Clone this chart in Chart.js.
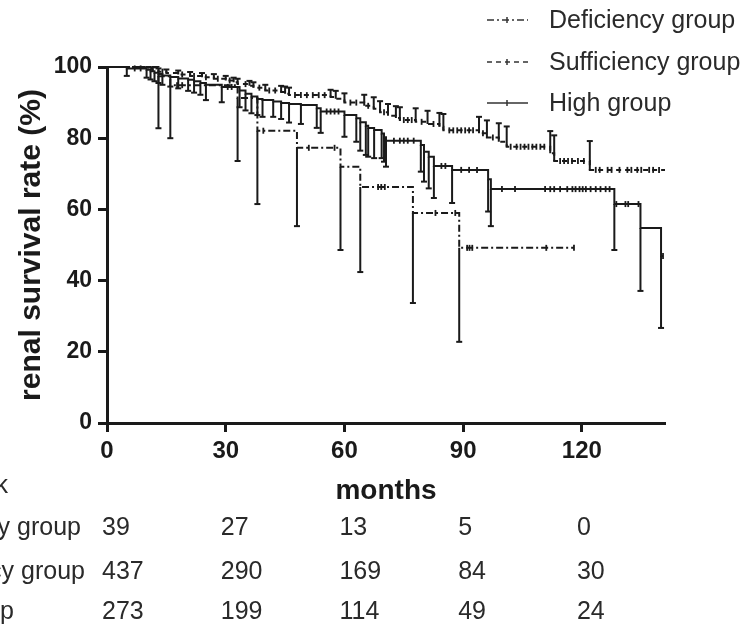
<!DOCTYPE html>
<html><head><meta charset="utf-8">
<script src="https://cdn.jsdelivr.net/npm/chart.js@4.4.1/dist/chart.umd.min.js"></script>
<style>html,body{margin:0;padding:0;background:#fff;overflow:hidden}canvas{display:block}</style>
</head><body>
<canvas id="c" width="742" height="628"></canvas>
<script>
// ---- data ----
const xTicks = [0, 30, 60, 90, 120];
const yTicks = [0, 20, 40, 60, 80, 100];
const groupNames = ['Deficiency group', 'Sufficiency group', 'High group'];
const riskTitle = 'Number at risk';
const riskTimes = [0, 30, 60, 90, 120];
const riskDef = [39, 27, 13, 5, 0];
const riskSuf = [437, 290, 169, 84, 30];
const riskHigh = [273, 199, 114, 49, 24];

// Deficiency group: event times, survival after event, lower CI
const defT  = [13, 16, 33, 38, 48, 59, 64, 77.3, 89];
const defS  = [97.4, 94.9, 91.3, 82.1, 77.3, 72.0, 66.3, 59.0, 49.2];
const defLo = [82.8, 80.0, 73.6, 61.5, 55.3, 48.6, 42.4, 33.7, 22.8];
const defEnd = 118;
const defCens = [17.7, 19, 39.5, 51, 57.5, 68.5, 69.3, 70.2, 83, 88, 91, 91.6, 92.3, 111, 118];

// Sufficiency group: event times, survival, upper CI
const sufT  = [9, 10.5, 11.5, 13, 15, 18, 21, 24, 27, 30, 32, 33, 36, 37, 40, 44, 45, 46, 56.5, 57.8, 60, 65, 67.4, 69, 71, 73, 74, 78, 81, 84, 85, 94, 96, 99, 101, 112, 113, 122];
const sufS  = [99.8, 99.5, 99.1, 98.7, 98.3, 97.9, 97.5, 97.1, 96.7, 96.2, 95.7, 95.2, 94.7, 94.2, 93.4, 93.0, 92.5, 92.1, 91.6, 91.1, 90.0, 89.1, 88.3, 87.3, 86.3, 85.7, 85.1, 84.6, 84.0, 83.2, 82.2, 81.4, 80.2, 79.0, 77.6, 75.8, 73.6, 71.1];
const sufHi = [100, 100, 99.9, 99.6, 99.3, 99.0, 98.6, 98.3, 98.0, 97.5, 97.0, 96.7, 96.1, 95.7, 95.0, 94.7, 94.5, 94.2, 93.6, 93.3, 92.6, 92.2, 91.5, 90.4, 89.6, 89.0, 88.7, 88.4, 87.7, 87.1, 86.8, 86.0, 85.0, 84.2, 83.3, 82.0, 80.8, 79.2];
const sufEnd = 141;
const sufCens = [14, 19, 22, 25, 28, 31, 35, 38.5, 41, 42.5, 47.5, 49, 50.5, 52, 53.5, 55, 61.5, 63, 66, 70, 75, 76, 77, 79.5, 82.5, 86.5, 87.5, 88.5, 89.5, 90.5, 91.5, 92.5, 95, 97.5, 102, 103.5, 104.5, 105.5, 106.5, 107.5, 108.5, 109.5, 110.5, 114.5, 115.5, 116.5, 117.5, 119, 120.5, 123.5, 124.5, 126.5, 127.5, 129.5, 131.5, 132.5, 134, 135, 137, 138, 139.5];

// High group: event times, survival, lower CI
const highT  = [5, 10, 11, 12, 13, 14, 16, 18, 20.5, 22, 23.6, 25, 29, 33.5, 35, 36.5, 38, 39.3, 42, 44, 46, 49, 53, 54, 60, 63, 64, 65.4, 66, 67.5, 69.4, 70, 70.5, 79.3, 80.1, 81.3, 82.6, 87.2, 96.3, 97, 128.2, 134.8, 140];
const highS  = [99.6, 99.2, 98.8, 98.4, 98.0, 97.6, 97.2, 96.8, 96.4, 96.0, 95.5, 95.0, 94.4, 93.4, 92.5, 91.7, 91.0, 90.7, 90.3, 89.9, 89.6, 89.3, 88.4, 87.5, 86.5, 85.6, 84.5, 83.5, 82.9, 82.3, 81.3, 80.3, 79.3, 78.1, 76.2, 74.8, 72.2, 71.1, 68.5, 65.7, 61.5, 54.8, 46.9];
const highLo = [97.5, 97.0, 96.5, 96.0, 95.5, 95.0, 94.5, 94.0, 93.3, 92.8, 92.2, 90.7, 90.1, 88.7, 87.8, 87.0, 86.5, 86.0, 86.0, 85.4, 84.4, 84.0, 82.9, 81.5, 80.4, 79.0, 76.5, 75.3, 74.8, 74.4, 74.4, 73.4, 72.0, 70.6, 67.8, 65.9, 63.2, 61.8, 59.4, 55.3, 48.6, 37.1, 26.7];
const highEnd = 140.5;
const highCens = [7, 8.5, 30.5, 31.5, 55.5, 56.5, 57.5, 58.5, 72.5, 74, 75, 76, 77.5, 84.5, 85.5, 89.5, 91.5, 93.5, 99.8, 103.1, 110.7, 112, 113, 114.5, 116.3, 117.6, 118.4, 119.4, 120.2, 121, 122.2, 123.5, 124.7, 126, 127, 128.7, 131, 131.7, 134.3, 140.5];

// ---- helpers ----
const INK = '#1a1a1a';
const FONT = '"Liberation Sans", Arial, Helvetica, sans-serif';
function stepPts(T, S, end) {
  const p = [{x: 0, y: 100}];
  T.forEach((t, i) => p.push({x: t, y: S[i]}));
  p.push({x: end, y: S[S.length - 1]});
  return p;
}
function survAt(T, S, t) {
  let v = 100;
  for (let i = 0; i < T.length; i++) if (T[i] <= t) v = S[i];
  return v;
}
function barPts(T, S, B) {
  const p = [];
  T.forEach((t, i) => { p.push({x: t, y: S[i]}); p.push({x: t, y: B[i]}); p.push({x: t, y: null}); });
  return p;
}
function censPts(T, S, C) { return C.map(c => ({x: c, y: survAt(T, S, c)})); }

const dashDef = [7, 3, 2, 3];
const dashSuf = [5, 4];

function curve(T, S, end, dash) {
  return {data: stepPts(T, S, end), stepped: true, borderColor: INK, borderWidth: 2, borderDash: dash,
          pointRadius: 0, fill: false, clip: 12};
}
function bars(T, S, B) {
  return {data: barPts(T, S, B), borderColor: INK, borderWidth: 2, spanGaps: false, fill: false, clip: 12,
          pointStyle: 'line', pointBorderColor: INK, pointBorderWidth: 2,
          pointRadius: c => (c.dataIndex % 3 === 1 ? 3 : 0)};
}
function cens(T, S, C) {
  return {data: censPts(T, S, C), showLine: false, pointStyle: 'line', rotation: 90, pointRadius: 3,
          pointBorderColor: INK, pointBorderWidth: 1.8, clip: 12};
}

const overlay = {
  id: 'overlay',
  afterDraw(chart) {
    const ctx = chart.ctx, xs = chart.scales.x;
    ctx.save();
    // legend
    const items = [[groupNames[0], dashDef, 20], [groupNames[1], dashSuf, 62], [groupNames[2], [], 103]];
    ctx.font = '25px ' + FONT; ctx.textBaseline = 'middle'; ctx.textAlign = 'left';
    items.forEach(([label, dash, y]) => {
      ctx.strokeStyle = '#333'; ctx.lineWidth = 1.5; ctx.setLineDash(dash);
      ctx.beginPath(); ctx.moveTo(487, y); ctx.lineTo(528, y); ctx.stroke();
      ctx.setLineDash([]);
      ctx.beginPath(); ctx.moveTo(507, y - 3); ctx.lineTo(507, y + 3); ctx.stroke();
      ctx.fillStyle = '#2a2a2a';
      ctx.fillText(label, 549, y + 1);
    });
    // risk table
    ctx.fillStyle = '#2a2a2a';
    ctx.textAlign = 'right';
    ctx.fillText(riskTitle, 8, 486);
    const rows = [[groupNames[0], riskDef, 528, 81], [groupNames[1], riskSuf, 572, 85], [groupNames[2], riskHigh, 612, 14]];
    rows.forEach(([label, vals, y, labelEnd]) => {
      ctx.textAlign = 'right';
      ctx.fillText(label, labelEnd, y);
      ctx.textAlign = 'left';
      vals.forEach((v, j) => ctx.fillText(String(v), xs.getPixelForValue(riskTimes[j]) - 5, y));
    });
    ctx.restore();
  }
};

const axisCommon = {
  grid: {drawOnChartArea: false, drawTicks: true, tickLength: 9, tickWidth: 3, tickColor: INK},
  border: {display: true, width: 3, color: INK}
};

new Chart(document.getElementById('c'), {
  type: 'line',
  data: {datasets: [
    curve(defT, defS, defEnd, dashDef), bars(defT, defS, defLo), cens(defT, defS, defCens),
    curve(sufT, sufS, sufEnd, dashSuf), bars(sufT, sufS, sufHi), cens(sufT, sufS, sufCens),
    curve(highT, highS, highEnd, []), bars(highT, highS, highLo), cens(highT, highS, highCens)
  ]},
  options: {
    responsive: false, animation: false, devicePixelRatio: 1,
    layout: {padding: {top: 67, right: 77, left: 0, bottom: 0}},
    plugins: {legend: {display: false}, tooltip: {enabled: false}},
    scales: {
      x: Object.assign({}, axisCommon, {
        type: 'linear', min: 0, max: 141,
        afterBuildTicks: s => { s.ticks = xTicks.map(v => ({value: v})); },
        afterFit: s => { s.height = 205; },
        ticks: {color: INK, padding: 5, font: {family: FONT, size: 24, weight: 'bold'}},
        title: {display: true, text: 'months', color: INK, font: {family: FONT, size: 28, weight: 'bold'},
                padding: {top: 0, bottom: 120}}
      }),
      y: Object.assign({}, axisCommon, {
        type: 'linear', min: 0, max: 100,
        afterBuildTicks: s => { s.ticks = yTicks.map(v => ({value: v})); },
        afterFit: s => { s.width = 107; },
        ticks: {color: INK, padding: 6, font: {family: FONT, size: 23, weight: 'bold'}},
        title: {display: true, text: 'renal survival rate (%)', color: INK,
                font: {family: FONT, size: 30, weight: 'bold'}, padding: {top: 14, bottom: 0}}
      })
    }
  },
  plugins: [overlay]
});
</script>
</body></html>
